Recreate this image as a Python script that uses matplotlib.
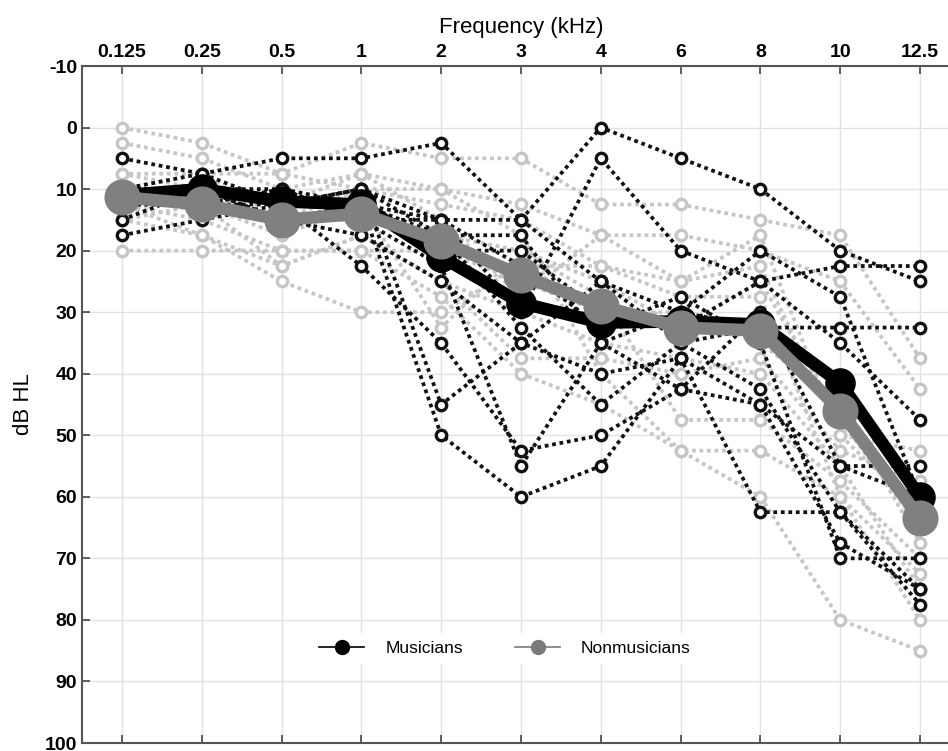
import matplotlib
matplotlib.use("Agg")
import matplotlib.pyplot as plt
from matplotlib.lines import Line2D

freq_labels = ["0.125", "0.25", "0.5", "1", "2", "3", "4", "6", "8", "10", "12.5"]

# Individual audiograms, musicians (dB HL)
musicians = [
    [5, 7.5, 5, 5, 2.5, 15, 0, 5, 10, 20, 25],
    [10, 12.5, 10, 12.5, 15, 30, 5, 20, 25, 22.5, 22.5],
    [17.5, 15, 12.5, 22.5, 35, 52.5, 50, 42.5, 45, 55, 55],
    [12.5, 10, 12.5, 10, 45, 35, 25, 35, 42.5, 62.5, 75],
    [10, 10, 15, 12.5, 50, 60, 55, 37.5, 62.5, 62.5, 77.5],
    [12.5, 12.5, 10, 15, 22.5, 55, 35, 30, 32.5, 32.5, 32.5],
    [10, 7.5, 12.5, 12.5, 20, 20, 30, 32.5, 25, 35, 47.5],
    [15, 10, 12.5, 10, 17.5, 17.5, 35, 42.5, 30, 55, 60],
    [10, 12.5, 15, 17.5, 25, 35, 40, 37.5, 45, 67.5, 75],
    [12.5, 12.5, 12.5, 10, 15, 22.5, 32.5, 27.5, 35, 70, 70],
    [10, 10, 10, 15, 15, 15, 25, 30, 20, 27.5, 60],
    [12.5, 10, 15, 12.5, 17.5, 32.5, 45, 35, 32.5, 45, 65],
]

# Individual audiograms, nonmusicians (dB HL)
nonmusicians = [
    [0, 2.5, 7.5, 2.5, 5, 5, 12.5, 12.5, 15, 17.5, 37.5],
    [2.5, 5, 10, 7.5, 10, 12.5, 17.5, 17.5, 20, 25, 42.5],
    [7.5, 7.5, 7.5, 10, 12.5, 15, 22.5, 25, 22.5, 50, 52.5],
    [15, 17.5, 22.5, 17.5, 25, 37.5, 37.5, 40, 37.5, 52.5, 57.5],
    [20, 20, 20, 20, 27.5, 40, 45, 52.5, 60, 80, 85],
    [12.5, 17.5, 25, 30, 30, 22.5, 22.5, 27.5, 27.5, 60, 80],
    [10, 12.5, 17.5, 12.5, 32.5, 20, 27.5, 47.5, 47.5, 57.5, 70],
    [10, 10, 15, 10, 10, 17.5, 40, 52.5, 52.5, 60, 72.5],
    [12.5, 15, 20, 20, 20, 25, 30, 30, 35, 45, 67.5],
    [7.5, 10, 12.5, 7.5, 15, 27.5, 17.5, 25, 17.5, 50, 62.5],
    [15, 12.5, 22.5, 17.5, 25, 30, 35, 37.5, 40, 55, 75],
    [10, 7.5, 15, 15, 17.5, 20, 25, 32.5, 25, 47.5, 65],
]

# Group means
mean_musicians = [11, 10, 12, 12.5, 21, 28.5, 31.7, 31.5, 32, 41.5, 60]
mean_nonmusicians = [11.3, 12.5, 15, 14, 18.5, 24, 29, 32.5, 33, 46, 63.5]

y_ticks = list(range(-10, 101, 10))

fig = plt.figure(figsize=(9.48, 7.51), dpi=100)
ax = fig.add_axes([82 / 948, 8 / 751, 878 / 948, 677 / 751])

x = list(range(len(freq_labels)))
dot = (0, (1, 1))

for row in nonmusicians:
    ax.plot(x, row, linestyle=dot, color="#c6c6c6", lw=2.7, marker="o",
            ms=7.5, mfc="white", mec="#c6c6c6", mew=2.4, zorder=2)
for row in musicians:
    ax.plot(x, row, linestyle=dot, color="#111111", lw=2.7, marker="o",
            ms=7.5, mfc="white", mec="#111111", mew=2.4, zorder=3)

ax.plot(x, mean_musicians, color="black", lw=9, marker="o", ms=21,
        solid_joinstyle="round", zorder=5)
ax.plot(x, mean_nonmusicians, color="#808080", lw=9, marker="o", ms=25,
        solid_joinstyle="round", zorder=6)

ax.set_xlim(-0.5, 10.5)
ax.set_ylim(100, -10)
ax.set_xticks(x)
ax.set_xticklabels(freq_labels)
ax.set_yticks(y_ticks)
ax.set_yticklabels([str(v) for v in y_ticks])

ax.xaxis.set_ticks_position("both")
ax.xaxis.set_label_position("top")
ax.tick_params(axis="x", which="both", direction="in", length=6, width=1.2,
               color="#444444", labeltop=True, labelbottom=False, pad=3.5)
ax.tick_params(axis="y", direction="in", length=6, width=1.2, color="#444444", pad=3.5)

for lbl in ax.get_xticklabels() + ax.get_yticklabels():
    lbl.set_fontfamily("Liberation Sans")
    lbl.set_fontweight("bold")
    lbl.set_fontsize(14)

ax.grid(True, color="#e2e2e2", lw=1)
ax.set_axisbelow(True)
for s in ax.spines.values():
    s.set_color("#555555")
    s.set_linewidth(1.5)

ax.set_xlabel("Frequency (kHz)", fontsize=16, family="Liberation Sans", labelpad=8)
ax.set_ylabel("dB HL", fontsize=16, family="Liberation Sans", labelpad=8)

handles = [
    Line2D([], [], color="black", lw=1.2, marker="o", ms=10),
    Line2D([], [], color="#7a7a7a", lw=1.2, marker="o", ms=10),
]
leg = ax.legend(handles, ["Musicians", "Nonmusicians"], loc="center",
                bbox_to_anchor=((505 - 82) / 878, (743 - 648) / 677),
                ncol=2, frameon=True, framealpha=1, edgecolor="white",
                facecolor="white", prop={"family": "Liberation Sans", "size": 12.5},
                handlelength=2.6, columnspacing=3.0, handletextpad=1.2, fancybox=False)
leg.set_zorder(10)

fig.savefig("out.png", dpi=100)
